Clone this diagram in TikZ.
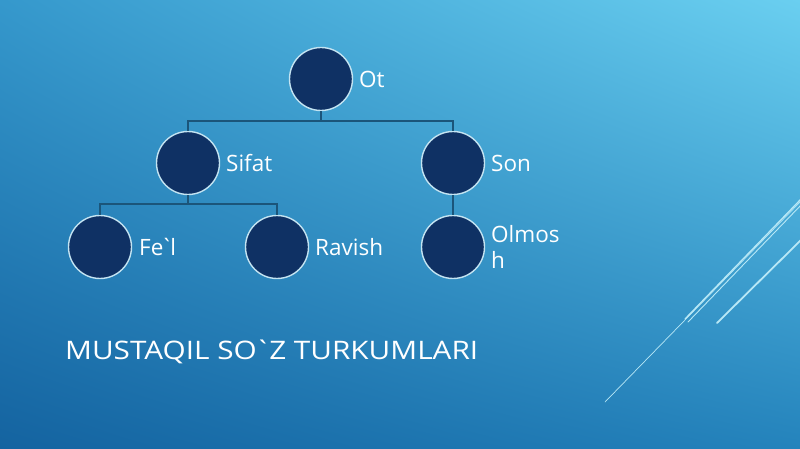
\documentclass[tikz,border=0pt]{standalone}
\usepackage{fontspec}
\setmainfont{Open Sans}
\newfontfamily\uzfont{Open Sans}
\usetikzlibrary{shadings}
\begin{document}
\begin{tikzpicture}[x=1pt,y=-1pt,
  bub/.style={circle,minimum size=63pt,inner sep=0pt,fill=navy,draw=rimc,line width=1.4pt},
  lab/.style={anchor=west,text=white,font=\uzfont\fontsize{22.5}{25.5}\selectfont,inner sep=0pt},
  conn/.style={draw=connc,line width=1.4pt},
  deco/.style={draw=decoc,line cap=round}]
\definecolor{navy}{HTML}{0F3164}
\definecolor{rimc}{HTML}{C4E4F2}
\definecolor{connc}{HTML}{1B557A}
\definecolor{decoc}{HTML}{B8E8F6}
\definecolor{cul}{HTML}{3598CC}
\definecolor{cur}{HTML}{6ACFF0}
\definecolor{cll}{HTML}{1463A0}
\definecolor{clr}{HTML}{2483BC}
\useasboundingbox (0,0) rectangle (800,449);
\shade[upper left=cul,upper right=cur,lower left=cll,lower right=clr] (0,0) rectangle (800,449);
% decorative lines
\coordinate (d1a) at (605,402); \coordinate (d1b) at (803,199);
\coordinate (d2a) at (685,319); \coordinate (d2b) at (803,197);
\coordinate (d3a) at (688,322); \coordinate (d3b) at (803,203);
\coordinate (d4a) at (717,323); \coordinate (d4b) at (803,238);
\draw[deco,line width=0.7pt] (d1a) -- (d1b);
\draw[deco,line width=1.3pt] (d2a) -- (d2b);
\draw[deco,line width=0.9pt] (d3a) -- (d3b);
\draw[deco,line width=1.8pt] (d4a) -- (d4b);
% nodes
\node[bub] (ot) at (321,79) {};
\node[bub] (sifat) at (188,163) {};
\node[bub] (son) at (453,163) {};
\node[bub] (fel) at (100,247) {};
\node[bub] (ravish) at (277,247) {};
\node[bub] (olmosh) at (453,247) {};
\coordinate (b1) at (321,121);
\coordinate (b2) at (188,204);
\draw[conn] (ot.south) -- (b1);
\draw[conn] (b1) -| (sifat.north);
\draw[conn] (b1) -| (son.north);
\draw[conn] (sifat.south) -- (b2);
\draw[conn] (b2) -| (fel.north);
\draw[conn] (b2) -| (ravish.north);
\draw[conn] (son.south) -- (olmosh.north);
% labels
\node[lab] (lot) at (359,79) {Ot};
\node[lab] (lsifat) at (226,163) {Sifat};
\node[lab] (lson) at (491,163) {Son};
\node[lab] (lfel) at (139,247) {Fe\kern-3pt`\kern-3pt l};
\node[lab] (lravish) at (315,247) {Ravish};
\node[lab,align=left] (lolmosh) at (491,247) {Olmos\\h};
% title
\node[anchor=base west,text=white,inner sep=0pt,font=\uzfont\fontsize{25.5}{30}\selectfont] (title) at (65,359) {\resizebox{413pt}{\height}{MUSTAQIL SO\kern-2pt`\kern-2pt Z TURKUMLARI}};
\end{tikzpicture}
\end{document}
